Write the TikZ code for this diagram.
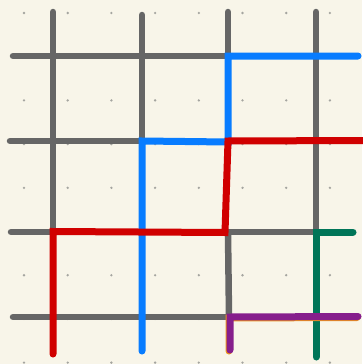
\documentclass[tikz,border=0pt]{standalone}
\usetikzlibrary{calc}
\definecolor{bg}{RGB}{248,245,233}
\definecolor{gridgray}{RGB}{102,102,102}
\definecolor{dotgray}{RGB}{165,165,160}
\definecolor{pblue}{RGB}{8,124,255}
\definecolor{pred}{RGB}{208,0,0}
\definecolor{pgreen}{RGB}{0,117,88}
\definecolor{ppurple}{RGB}{134,30,140}
\definecolor{porange}{RGB}{235,145,30}
\tikzset{
  gridline/.style={draw=gridgray, line width=6.5pt, line cap=round},
  pathline/.style={line width=7pt, line cap=round, line join=miter},
  gdot/.style={fill=dotgray, draw=none}
}
\begin{document}
\begin{tikzpicture}[x=1pt,y=-1pt]
\fill[bg] (0,0) rectangle (362,364);
\useasboundingbox (0,0) rectangle (362,364);
% dots
\foreach \i in {0,...,7}{
  \foreach \j in {0,...,8}{
    \fill[gdot] ({24+43.7*\i},{13+43.7*\j}) circle (1.3);
  }
}
% gray grid segments
\coordinate (v1t) at (53,12);  \coordinate (v1b) at (53,232);
\coordinate (v2t) at (142,15); \coordinate (v2b) at (142,141);
\coordinate (v3t) at (228,12); \coordinate (v3m) at (228,56);
\coordinate (v3c) at (228,232); \coordinate (v3d) at (229,317);
\coordinate (v4t) at (316,12); \coordinate (v4b) at (316,232);
\coordinate (h1l) at (13,56);
\coordinate (h2l) at (10,141);
\coordinate (h3l) at (11,232);
\coordinate (h4l) at (13,317);
\draw[gridline] (v1t) -- (v1b);
\draw[gridline] (v2t) -- (v2b);
\draw[gridline] (v3t) -- (v3m);
\draw[gridline] (v3c) -- (v3d);
\draw[gridline] (v4t) -- (v4b);
\draw[gridline] (h1l) -- (v3m);
\draw[gridline] (h2l) -- (v2b);
\draw[gridline] (h3l) -- (v1b);
\draw[gridline] (v3c) -- (v4b);
\draw[gridline] (h4l) -- (v3d);
% blue path
\coordinate (b1) at (142,351);
\coordinate (b2) at (142,141);
\coordinate (b3) at (228,142);
\coordinate (b4) at (228,56);
\coordinate (b5) at (358,56);
\draw[pathline, draw=pblue] (b1) -- (b2) -- (b3) -- (b4) -- (b5);
% red path
\coordinate (r1) at (53,354);
\coordinate (r2) at (53,231.5);
\coordinate (r3) at (225,232.5);
\coordinate (r4) at (228,141);
\coordinate (r5) at (364,140.5);
\draw[pathline, draw=pred] (r1) -- (r2) -- (r3) -- (r4) -- (r5);
% green path
\coordinate (g1) at (316,357);
\coordinate (g2) at (316,232);
\coordinate (g3) at (353,232);
\draw[pathline, draw=pgreen] (g1) -- (g2) -- (g3);
% orange under purple
\coordinate (o1) at (229,351);
\coordinate (o2) at (229,318);
\coordinate (o3) at (357,317.5);
\draw[pathline, draw=porange] (o1) -- (o2) -- (o3);
% purple path
\coordinate (p1) at (230,350);
\coordinate (p2) at (230,317);
\coordinate (p3) at (358,316.5);
\draw[pathline, draw=ppurple] (p1) -- (p2) -- (p3);
\end{tikzpicture}
\end{document}
